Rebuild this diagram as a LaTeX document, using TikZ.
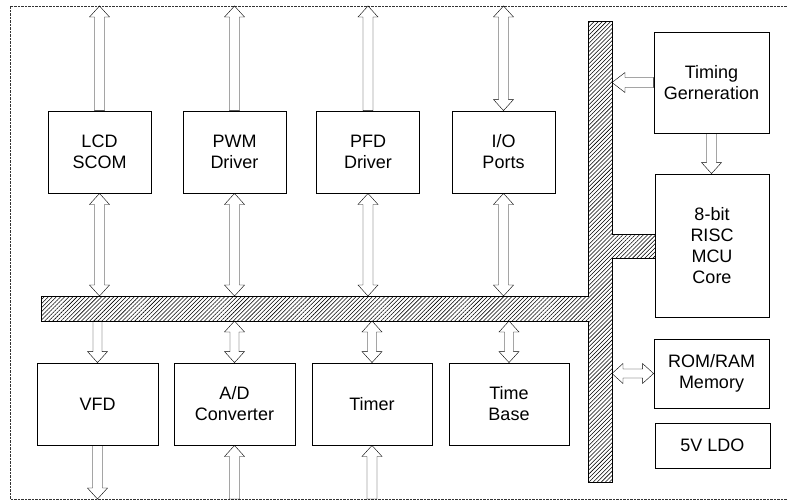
\documentclass[tikz,border=0pt]{standalone}
\usepackage{fontspec}
\setmainfont{Liberation Sans}
\usetikzlibrary{calc,patterns.meta}
\tikzset{
  fatS/.store in=\fatS, fatW/.store in=\fatW, fatH/.store in=\fatH,
  fatS=5pt, fatW=10pt, fatH=11pt,
  arrowline/.style={draw=black, line width=0.9pt, fill=white, line join=miter},
  sfat/.style={arrowline, to path={
    let \p1=(\tikztostart), \p2=(\tikztotarget),
        \n1={atan2(\y2-\y1,\x2-\x1)}, \n2={veclen(\x2-\x1,\y2-\y1)} in
    {[shift={(\p1)}, rotate=\n1]
      (0pt,-\fatS) -- ({\n2*1pt-\fatH},-\fatS) -- ({\n2*1pt-\fatH},-\fatW)
      -- ({\n2*1pt},0pt) -- ({\n2*1pt-\fatH},\fatW) -- ({\n2*1pt-\fatH},\fatS)
      -- (0pt,\fatS) -- cycle}}},
  dfat/.style={arrowline, to path={
    let \p1=(\tikztostart), \p2=(\tikztotarget),
        \n1={atan2(\y2-\y1,\x2-\x1)}, \n2={veclen(\x2-\x1,\y2-\y1)} in
    {[shift={(\p1)}, rotate=\n1]
      (0pt,0pt) -- (\fatH,\fatW) -- (\fatH,\fatS)
      -- ({\n2*1pt-\fatH},\fatS) -- ({\n2*1pt-\fatH},\fatW) -- ({\n2*1pt},0pt)
      -- ({\n2*1pt-\fatH},-\fatW) -- ({\n2*1pt-\fatH},-\fatS)
      -- (\fatH,-\fatS) -- (\fatH,-\fatW) -- cycle}}},
  blk/.style={draw=black, line width=0.9pt, rectangle, align=center,
    inner sep=0pt, font=\fontsize{18}{21}\selectfont},
  topbox/.style={blk, minimum width=103pt, minimum height=82pt},
  botbox/.style={blk, minimum width=121pt, minimum height=82pt},
  frame/.style={draw=black!80, line width=0.8pt, dash pattern=on 2.2pt off 1.3pt},
  bus/.style={draw=black, line width=0.9pt,
    pattern={Lines[angle=45, distance=2.9pt, line width=0.55pt]}},
}
\begin{document}
\begin{tikzpicture}[x=1pt,y=-1pt]
\useasboundingbox (0,0) rectangle (788,501);
% frame
\coordinate (frT) at (0,6);
\coordinate (frB) at (0,499);
\draw[frame] (790,6) -- (10,6) -- (10,499) -- (790,499);
% bus
\coordinate (hbT) at (0,296);
\coordinate (hbB) at (0,321);
\coordinate (vbR) at (612,0);
\draw[bus] (41,296) -- (588,296) -- (588,21) -- (612,21) -- (612,234)
  -- (655,234) -- (655,258) -- (612,258) -- (612,482) -- (588,482)
  -- (588,321) -- (41,321) -- cycle;
% top boxes
\node[topbox] (lcd) at (99.5,152) {LCD\\SCOM};
\node[topbox] (pwm) at (234.5,152) {PWM\\Driver};
\node[topbox] (pfd) at (368,152) {PFD\\Driver};
\node[topbox] (io)  at (503.5,152) {I/O\\Ports};
% bottom boxes
\node[botbox] (vfd) at (97.5,404) {VFD};
\node[botbox] (ad)  at (234.5,404) {A/D\\Converter};
\node[botbox, minimum width=120pt] (tmr) at (372,404) {Timer};
\node[botbox, minimum width=120pt] (tb)  at (509,404) {Time\\Base};
% right boxes
\node[blk, minimum width=115pt, minimum height=101pt] (tim) at (711.5,82.5) {Timing\\Gerneration};
\node[blk, minimum width=114pt, minimum height=143pt] (mcu) at (712,245.5) {8-bit\\RISC\\MCU\\Core};
\node[blk, minimum width=115pt, minimum height=69pt] (rom) at (711.5,373.5) {ROM/RAM\\Memory};
\node[blk, minimum width=115pt, minimum height=45pt] (ldo) at (712.5,445.5) {5V LDO};
% top arrows
\draw (lcd.north) to[sfat] (lcd.north |- frT);
\draw (pwm.north) to[sfat] (pwm.north |- frT);
\draw (pfd.north) to[sfat] (pfd.north |- frT);
\draw (io.north) to[dfat] (io.north |- frT);
% top boxes to bus
\draw (lcd.south) to[dfat] (lcd.south |- hbT);
\draw (pwm.south) to[dfat] (pwm.south |- hbT);
\draw (pfd.south) to[dfat] (pfd.south |- hbT);
\draw (io.south) to[dfat] (io.south |- hbT);
% bus to bottom boxes
\draw (vfd.north |- hbB) to[sfat, fatS=4.5pt] (vfd.north);
\draw (ad.north |- hbB) to[dfat, fatS=4.5pt] (ad.north);
\draw (tmr.north |- hbB) to[dfat, fatS=4.5pt] (tmr.north);
\draw (tb.north |- hbB) to[dfat, fatS=4.5pt] (tb.north);
% bottom exits
\draw (vfd.south) to[sfat] (vfd.south |- frB);
\draw (ad.south |- frB) to[sfat] (ad.south);
\draw (tmr.south |- frB) to[sfat] (tmr.south);
% right side
\draw (tim.west) to[sfat, fatH=13pt] (tim.west -| vbR);
\draw (tim.south) to[sfat] (tim.south |- mcu.north);
\draw (rom.west -| vbR) to[dfat, fatS=4.5pt] (rom.west);
\end{tikzpicture}
\end{document}
